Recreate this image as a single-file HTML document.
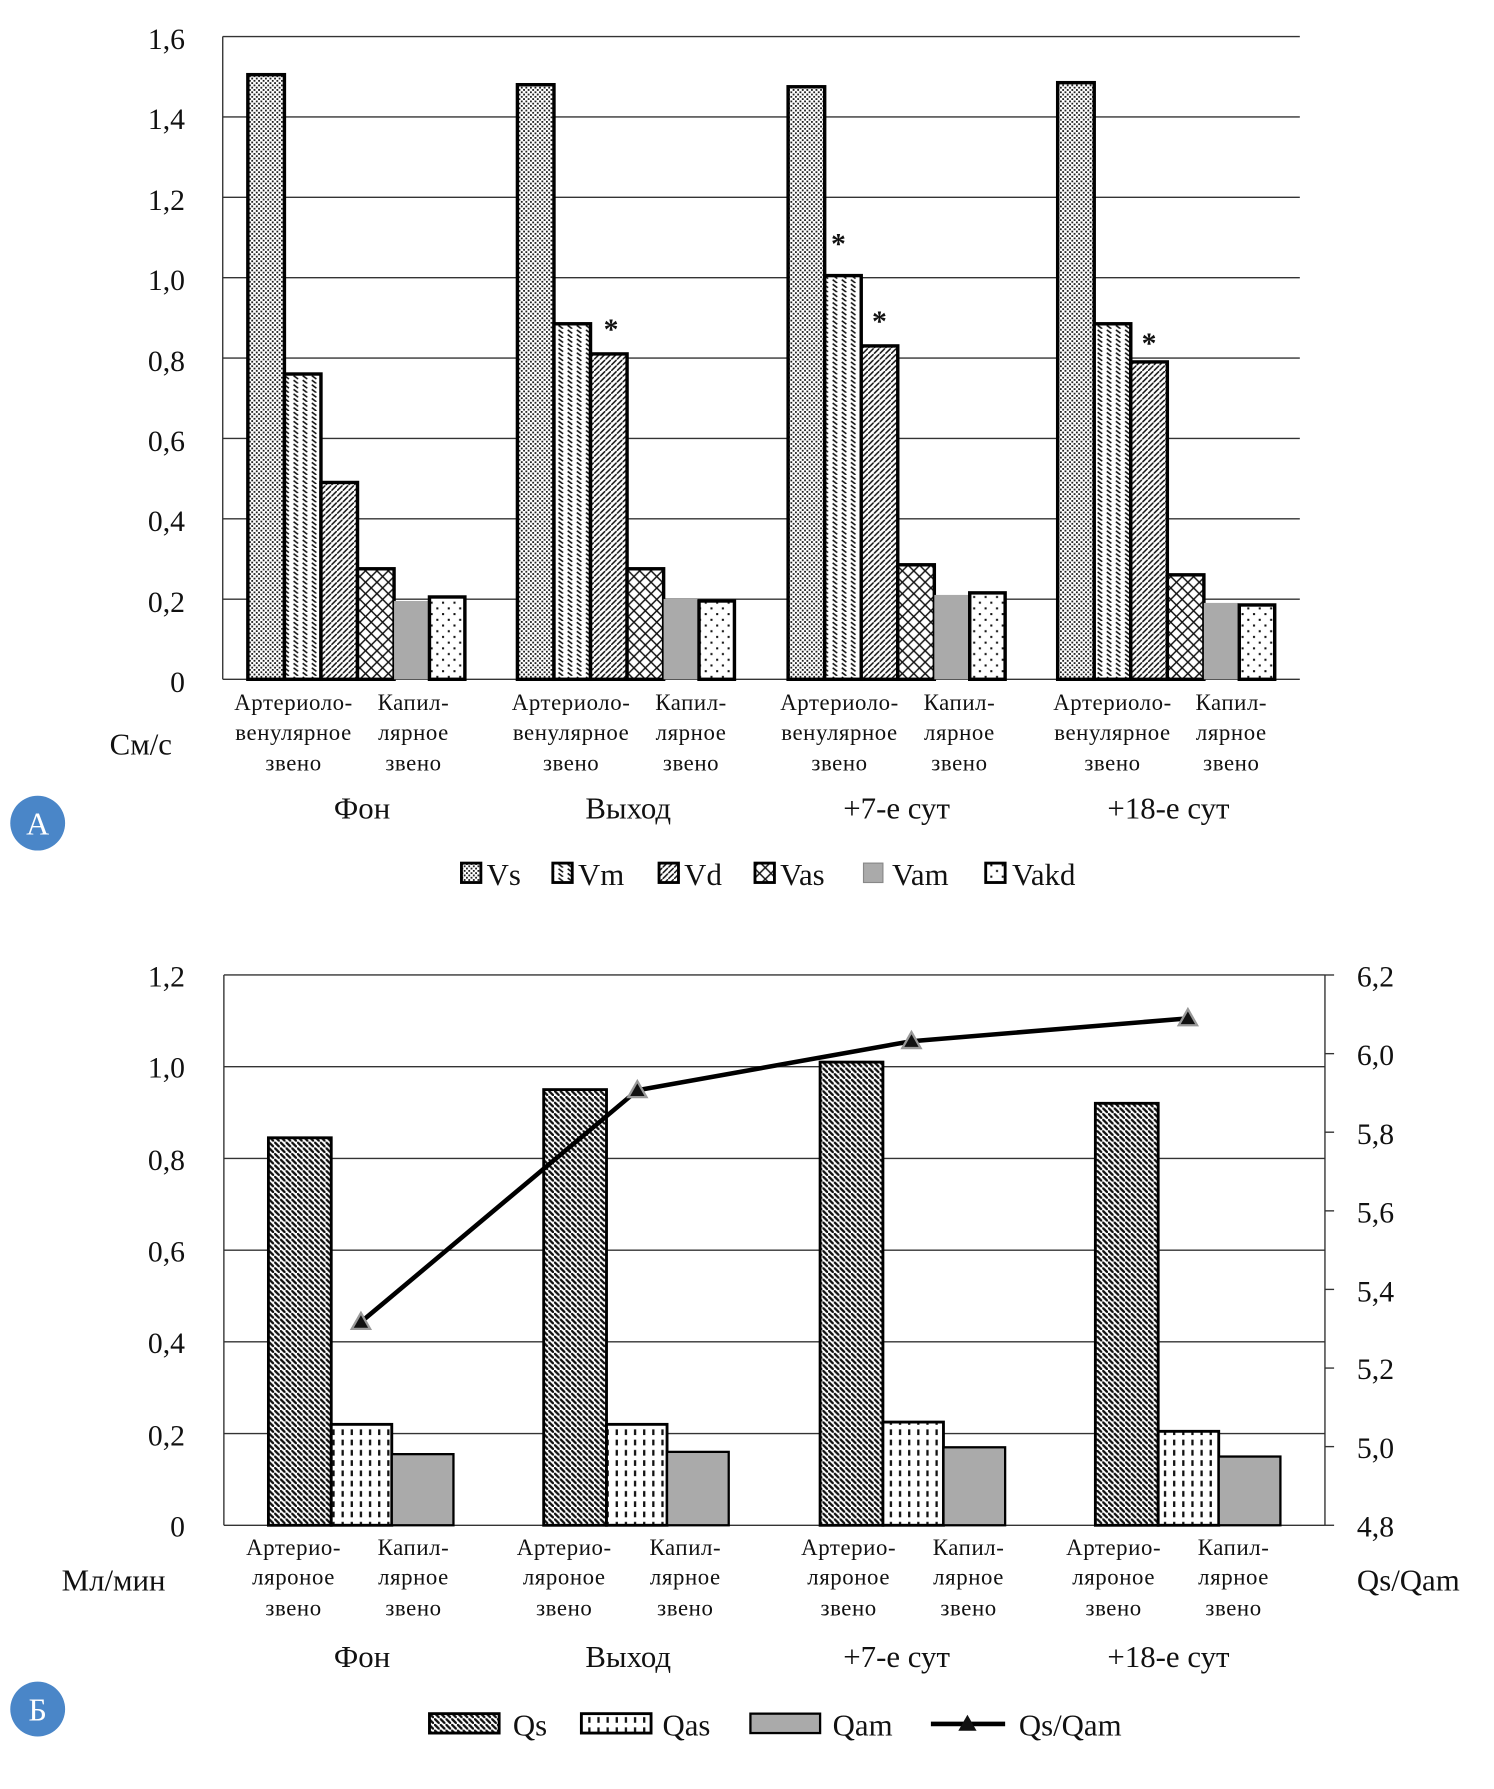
<!DOCTYPE html>
<html><head><meta charset="utf-8"><style>html,body{margin:0;padding:0;background:#fff}svg{display:block}text{font-family:"Liberation Serif","Noto Serif CJK SC",serif;fill:#111}</style></head>
<body>
<svg width="1494" height="1789" viewBox="0 0 1308 1567" preserveAspectRatio="none" xmlns="http://www.w3.org/2000/svg">
<defs>
<pattern id="pVs" width="4" height="4" patternUnits="userSpaceOnUse"><rect width="4" height="4" fill="#fff"/><rect x="0" y="0" width="1.6" height="1.6" fill="#222"/><rect x="2" y="2" width="1.6" height="1.6" fill="#222"/></pattern>
<pattern id="pVm" width="8" height="8" patternUnits="userSpaceOnUse"><rect width="8" height="8" fill="#fff"/><path d="M1 1 L5 4" stroke="#111" stroke-width="1.4"/><path d="M1 5 L5 8" stroke="#111" stroke-width="1.4"/></pattern>
<pattern id="pVd" width="5" height="5" patternUnits="userSpaceOnUse"><rect width="5" height="5" fill="#fff"/><path d="M-1 6 L6 -1" stroke="#111" stroke-width="1.3"/></pattern>
<pattern id="pVas" width="10" height="10" patternUnits="userSpaceOnUse"><rect width="10" height="10" fill="#fff"/><path d="M0 0L10 10M10 0L0 10" stroke="#111" stroke-width="1.3"/></pattern>
<pattern id="pVakd" width="10" height="10" patternUnits="userSpaceOnUse"><rect width="10" height="10" fill="#fff"/><rect x="2" y="2" width="1.8" height="1.8" fill="#111"/><rect x="7" y="7" width="1.8" height="1.8" fill="#111"/></pattern>
<pattern id="pQs" width="5" height="5" patternUnits="userSpaceOnUse"><rect width="5" height="5" fill="#fff"/><path d="M-1 -1 L6 6" stroke="#111" stroke-width="2"/></pattern>
<pattern id="pQas" width="8" height="9" patternUnits="userSpaceOnUse"><rect width="8" height="9" fill="#fff"/><rect x="3" y="1" width="2" height="5" fill="#111"/></pattern>
</defs>

<!-- Chart A -->
<g stroke="#333" stroke-width="1.2">
<line x1="195" y1="32" x2="1138" y2="32"/><line x1="195" y1="102.4" x2="1138" y2="102.4"/><line x1="195" y1="172.8" x2="1138" y2="172.8"/><line x1="195" y1="243.2" x2="1138" y2="243.2"/><line x1="195" y1="313.6" x2="1138" y2="313.6"/><line x1="195" y1="384" x2="1138" y2="384"/><line x1="195" y1="454.4" x2="1138" y2="454.4"/><line x1="195" y1="524.8" x2="1138" y2="524.8"/><line x1="195" y1="595" x2="1138" y2="595"/>
<line x1="195" y1="32" x2="195" y2="595"/>
</g>
<g font-size="26" text-anchor="end">
<text x="162" y="43">1,6</text><text x="162" y="113">1,4</text><text x="162" y="184">1,2</text><text x="162" y="254">1,0</text><text x="162" y="325">0,8</text><text x="162" y="395">0,6</text><text x="162" y="465">0,4</text><text x="162" y="536">0,2</text><text x="162" y="606">0</text>
</g>
<g stroke="#000" stroke-width="3">
<rect x="217" y="65.4" width="32" height="529.6" fill="url(#pVs)"/>
<rect x="249" y="327.6" width="32" height="267.4" fill="url(#pVm)"/>
<rect x="281" y="422.6" width="32" height="172.4" fill="url(#pVd)"/>
<rect x="313" y="498.2" width="32" height="96.8" fill="url(#pVas)"/>
<rect x="345" y="526.4" width="30" height="68.6" fill="#aaa" stroke="none"/>
<rect x="376" y="522.9" width="31" height="72.1" fill="url(#pVakd)"/>

<rect x="453" y="74.2" width="32" height="520.8" fill="url(#pVs)"/>
<rect x="485" y="283.6" width="32" height="311.4" fill="url(#pVm)"/>
<rect x="517" y="310" width="32" height="285" fill="url(#pVd)"/>
<rect x="549" y="498.2" width="32" height="96.8" fill="url(#pVas)"/>
<rect x="581" y="524.6" width="30" height="70.4" fill="#aaa" stroke="none"/>
<rect x="612" y="526.4" width="31" height="68.6" fill="url(#pVakd)"/>

<rect x="690" y="76" width="32" height="519" fill="url(#pVs)"/>
<rect x="722" y="241.4" width="32" height="353.6" fill="url(#pVm)"/>
<rect x="754" y="303" width="32" height="292" fill="url(#pVd)"/>
<rect x="786" y="494.7" width="32" height="100.3" fill="url(#pVas)"/>
<rect x="818" y="521.1" width="30" height="73.9" fill="#aaa" stroke="none"/>
<rect x="849" y="519.3" width="31" height="75.7" fill="url(#pVakd)"/>

<rect x="926" y="72.4" width="32" height="522.6" fill="url(#pVs)"/>
<rect x="958" y="283.6" width="32" height="311.4" fill="url(#pVm)"/>
<rect x="990" y="317" width="32" height="278" fill="url(#pVd)"/>
<rect x="1022" y="503.5" width="32" height="91.5" fill="url(#pVas)"/>
<rect x="1054" y="528.1" width="30" height="66.9" fill="#aaa" stroke="none"/>
<rect x="1085" y="529.9" width="31" height="65.1" fill="url(#pVakd)"/>
</g>
<g font-size="26" font-weight="bold" text-anchor="middle">
<text x="535" y="297">*</text><text x="734" y="222">*</text><text x="770" y="290">*</text><text x="1006" y="309">*</text>
</g>
<g font-size="20" text-anchor="middle" letter-spacing="0.5">
<text x="257" y="622">Артериоло-</text><text x="257" y="648">венулярное</text><text x="257" y="675">звено</text>
<text x="362" y="622">Капил-</text><text x="362" y="648">лярное</text><text x="362" y="675">звено</text>
<text x="500" y="622">Артериоло-</text><text x="500" y="648">венулярное</text><text x="500" y="675">звено</text>
<text x="605" y="622">Капил-</text><text x="605" y="648">лярное</text><text x="605" y="675">звено</text>
<text x="735" y="622">Артериоло-</text><text x="735" y="648">венулярное</text><text x="735" y="675">звено</text>
<text x="840" y="622">Капил-</text><text x="840" y="648">лярное</text><text x="840" y="675">звено</text>
<text x="974" y="622">Артериоло-</text><text x="974" y="648">венулярное</text><text x="974" y="675">звено</text>
<text x="1078" y="622">Капил-</text><text x="1078" y="648">лярное</text><text x="1078" y="675">звено</text>
</g>
<g font-size="27" text-anchor="middle">
<text x="317" y="717">Фон</text><text x="550" y="717">Выход</text><text x="785" y="717">+7-е сут</text><text x="1023" y="717">+18-е сут</text>
</g>
<text x="96" y="661" font-size="27">См/с</text>
<circle cx="33" cy="721" r="24" fill="#4a86c8"/>
<text x="33" y="731" font-size="28" fill="#fff" text-anchor="middle" style="fill:#fff">А</text>

<g stroke="#000" stroke-width="2.5">
<rect x="404" y="756" width="17" height="17" fill="url(#pVs)"/>
<rect x="484" y="756" width="17" height="17" fill="url(#pVm)"/>
<rect x="577" y="756" width="17" height="17" fill="url(#pVd)"/>
<rect x="661" y="756" width="17" height="17" fill="url(#pVas)"/>
<rect x="756" y="756" width="17" height="17" fill="#aaa" stroke="#888" stroke-width="1"/>
<rect x="863" y="756" width="17" height="17" fill="url(#pVakd)"/>
</g>
<g font-size="27">
<text x="426" y="775">Vs</text><text x="506" y="775">Vm</text><text x="599" y="775">Vd</text><text x="683" y="775">Vas</text><text x="781" y="775">Vam</text><text x="886" y="775">Vakd</text>
</g>

<!-- Chart B -->
<g stroke="#333" stroke-width="1.2">
<line x1="196" y1="854" x2="1160" y2="854"/><line x1="196" y1="934.3" x2="1160" y2="934.3"/><line x1="196" y1="1014.7" x2="1160" y2="1014.7"/><line x1="196" y1="1095" x2="1160" y2="1095"/><line x1="196" y1="1175.3" x2="1160" y2="1175.3"/><line x1="196" y1="1255.7" x2="1160" y2="1255.7"/><line x1="196" y1="1336" x2="1160" y2="1336"/>
<line x1="196" y1="854" x2="196" y2="1336"/>
<line x1="1160" y1="854" x2="1160" y2="1336"/>
<line x1="1160" y1="854" x2="1168" y2="854"/><line x1="1160" y1="922.9" x2="1168" y2="922.9"/><line x1="1160" y1="991.7" x2="1168" y2="991.7"/><line x1="1160" y1="1060.6" x2="1168" y2="1060.6"/><line x1="1160" y1="1129.4" x2="1168" y2="1129.4"/><line x1="1160" y1="1198.3" x2="1168" y2="1198.3"/><line x1="1160" y1="1267.1" x2="1168" y2="1267.1"/><line x1="1160" y1="1336" x2="1168" y2="1336"/>
</g>
<g font-size="26" text-anchor="end">
<text x="162" y="864">1,2</text><text x="162" y="944">1,0</text><text x="162" y="1025">0,8</text><text x="162" y="1105">0,6</text><text x="162" y="1185">0,4</text><text x="162" y="1266">0,2</text><text x="162" y="1346">0</text>
</g>
<g font-size="26">
<text x="1188" y="864">6,2</text><text x="1188" y="933">6,0</text><text x="1188" y="1002">5,8</text><text x="1188" y="1071">5,6</text><text x="1188" y="1140">5,4</text><text x="1188" y="1208">5,2</text><text x="1188" y="1277">5,0</text><text x="1188" y="1346">4,8</text>
</g>
<g stroke="#000" stroke-width="2.5">
<rect x="235" y="996.6" width="55" height="339.4" fill="url(#pQs)"/>
<rect x="290" y="1247.6" width="53" height="88.4" fill="url(#pQas)"/>
<rect x="343" y="1273.7" width="54" height="62.3" fill="#aaa" stroke-width="2"/>
<rect x="476" y="954.4" width="55" height="381.6" fill="url(#pQs)"/>
<rect x="531" y="1247.6" width="53" height="88.4" fill="url(#pQas)"/>
<rect x="584" y="1271.7" width="54" height="64.3" fill="#aaa" stroke-width="2"/>
<rect x="718" y="930.3" width="55" height="405.7" fill="url(#pQs)"/>
<rect x="773" y="1245.6" width="53" height="90.4" fill="url(#pQas)"/>
<rect x="826" y="1267.7" width="54" height="68.3" fill="#aaa" stroke-width="2"/>
<rect x="959" y="966.4" width="55" height="369.6" fill="url(#pQs)"/>
<rect x="1014" y="1253.7" width="53" height="82.3" fill="url(#pQas)"/>
<rect x="1067" y="1275.8" width="54" height="60.2" fill="#aaa" stroke-width="2"/>
</g>
<polyline points="316,1158 558,955 798,912 1040,892" fill="none" stroke="#000" stroke-width="4"/>
<g fill="#111" stroke="#999" stroke-width="2">
<path d="M316 1150 L324 1164 L308 1164Z"/><path d="M558 947 L566 961 L550 961Z"/><path d="M798 904 L806 918 L790 918Z"/><path d="M1040 884 L1048 898 L1032 898Z"/>
</g>
<g font-size="20" text-anchor="middle" letter-spacing="0.5">
<text x="257" y="1362">Артерио-</text><text x="257" y="1388">ляроное</text><text x="257" y="1415">звено</text>
<text x="362" y="1362">Капил-</text><text x="362" y="1388">лярное</text><text x="362" y="1415">звено</text>
<text x="494" y="1362">Артерио-</text><text x="494" y="1388">ляроное</text><text x="494" y="1415">звено</text>
<text x="600" y="1362">Капил-</text><text x="600" y="1388">лярное</text><text x="600" y="1415">звено</text>
<text x="743" y="1362">Артерио-</text><text x="743" y="1388">ляроное</text><text x="743" y="1415">звено</text>
<text x="848" y="1362">Капил-</text><text x="848" y="1388">лярное</text><text x="848" y="1415">звено</text>
<text x="975" y="1362">Артерио-</text><text x="975" y="1388">ляроное</text><text x="975" y="1415">звено</text>
<text x="1080" y="1362">Капил-</text><text x="1080" y="1388">лярное</text><text x="1080" y="1415">звено</text>
</g>
<g font-size="27" text-anchor="middle">
<text x="317" y="1460">Фон</text><text x="550" y="1460">Выход</text><text x="785" y="1460">+7-е сут</text><text x="1023" y="1460">+18-е сут</text>
</g>
<text x="54" y="1393" font-size="27">Мл/мин</text>
<text x="1188" y="1393" font-size="27">Qs/Qam</text>
<circle cx="33" cy="1497" r="24" fill="#4a86c8"/>
<text x="33" y="1507" font-size="28" text-anchor="middle" style="fill:#fff">Б</text>

<g stroke="#000" stroke-width="2.5">
<rect x="376" y="1501" width="61" height="17" fill="url(#pQs)"/>
<rect x="509" y="1501" width="61" height="17" fill="url(#pQas)"/>
<rect x="657" y="1501" width="61" height="17" fill="#aaa" stroke-width="2"/>
</g>
<line x1="815" y1="1510" x2="880" y2="1510" stroke="#000" stroke-width="4"/>
<path d="M847 1502 L855 1516 L839 1516Z" fill="#111"/>
<g font-size="27">
<text x="449" y="1520">Qs</text><text x="580" y="1520">Qas</text><text x="729" y="1520">Qam</text><text x="892" y="1520">Qs/Qam</text>
</g>
</svg>
</body></html>
